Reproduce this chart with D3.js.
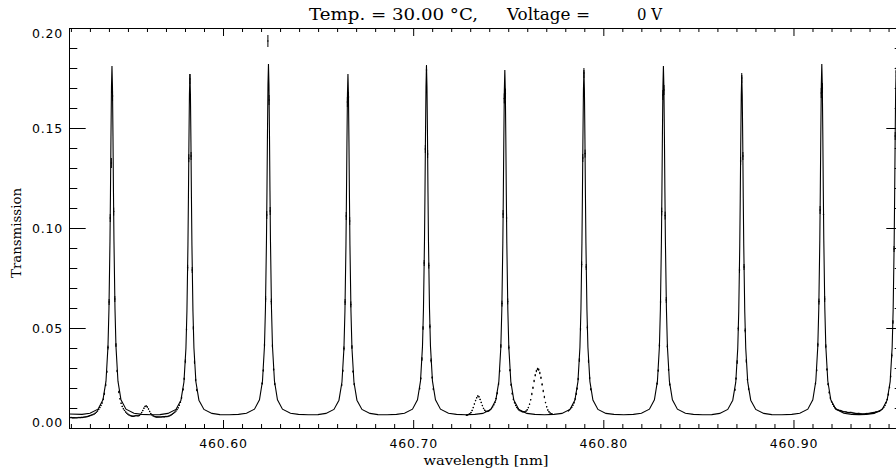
<!DOCTYPE html>
<html><head><meta charset="utf-8">
<script src="https://cdn.jsdelivr.net/npm/d3@7"></script>
<style>body{margin:0;background:#fff}svg{display:block}</style>
</head><body>
<svg id="c" width="896" height="474"></svg>
<script>
// ---- text ----
const titleParts = ["Temp. = 30.00 °C,", "Voltage =", "0 V"];
const xLabel = "wavelength [nm]";
const yLabel = "Transmission";
const xTickValues = [460.60, 460.70, 460.80, 460.90];
const yTickValues = [0.00, 0.05, 0.10, 0.15, 0.20];
const xDomain = [460.519, 460.9576];
const yDomain = [0, 0.20];

// ---- model (solid line) ----
const modelWl = [
460.5190,
460.52583,460.53003,460.53424,460.53687,460.53845,460.53950,460.54002,460.54055,460.54081,460.54107,460.54134,460.54160,460.54186,460.54213,460.54239,460.54265,460.54318,460.54370,460.54475,460.54633,460.54896,460.55317,460.55737,
460.56210,
460.56683,460.57103,460.57524,460.57787,460.57945,460.58050,460.58102,460.58155,460.58181,460.58207,460.58234,460.58260,460.58286,460.58313,460.58339,460.58365,460.58418,460.58470,460.58575,460.58733,460.58996,460.59417,460.59837,
460.60325,
460.60813,460.61233,460.61654,460.61917,460.62075,460.62180,460.62232,460.62285,460.62311,460.62337,460.62364,460.62390,460.62416,460.62443,460.62469,460.62495,460.62548,460.62600,460.62705,460.62863,460.63126,460.63547,460.63967,
460.64480,
460.64993,460.65413,460.65834,460.66097,460.66255,460.66360,460.66412,460.66465,460.66491,460.66517,460.66544,460.66570,460.66596,460.66623,460.66649,460.66675,460.66728,460.66780,460.66885,460.67043,460.67306,460.67727,460.68147,
460.68635,
460.69123,460.69543,460.69964,460.70227,460.70385,460.70490,460.70542,460.70595,460.70621,460.70647,460.70674,460.70700,460.70726,460.70753,460.70779,460.70805,460.70858,460.70910,460.71015,460.71173,460.71436,460.71857,460.72277,
460.72760,
460.73243,460.73663,460.74084,460.74347,460.74505,460.74610,460.74662,460.74715,460.74741,460.74767,460.74794,460.74820,460.74846,460.74873,460.74899,460.74925,460.74978,460.75030,460.75135,460.75293,460.75556,460.75977,460.76397,
460.76900,
460.77403,460.77823,460.78244,460.78507,460.78665,460.78770,460.78822,460.78875,460.78901,460.78927,460.78954,460.78980,460.79006,460.79033,460.79059,460.79085,460.79138,460.79190,460.79295,460.79453,460.79716,460.80137,460.80557,
460.81070,
460.81583,460.82003,460.82424,460.82687,460.82845,460.82950,460.83002,460.83055,460.83081,460.83107,460.83134,460.83160,460.83186,460.83213,460.83239,460.83265,460.83318,460.83370,460.83475,460.83633,460.83896,460.84317,460.84737,
460.85220,
460.85703,460.86123,460.86544,460.86807,460.86965,460.87070,460.87122,460.87175,460.87201,460.87227,460.87254,460.87280,460.87306,460.87333,460.87359,460.87385,460.87438,460.87490,460.87595,460.87753,460.88016,460.88437,460.88857,
460.89385,
460.89913,460.90333,460.90754,460.91017,460.91175,460.91280,460.91332,460.91385,460.91411,460.91437,460.91464,460.91490,460.91516,460.91543,460.91569,460.91595,460.91648,460.91700,460.91805,460.91963,460.92226,460.92647,460.93067,
460.93445,
460.93823,460.94243,460.94664,460.94927,460.95085,460.95190,460.95242,460.95295,460.95321,460.95347,460.95374,460.95400,460.95426,460.95453,460.95479,460.95505,460.95558,460.95610,460.95715
];
const modelT = [
0.0070,
.0068,.0074,.0094,.0141,.0234,.0408,.0597,.0934,.1178,.1459,.1706,.1810,.1706,.1459,.1178,.0934,.0597,.0408,.0234,.0141,.0094,.0074,.0068,
.0066,
.0067,.0073,.0093,.0139,.0230,.0400,.0585,.0914,.1153,.1427,.1669,.1770,.1669,.1427,.1153,.0914,.0585,.0400,.0230,.0139,.0093,.0073,.0067,
.0066,
.0068,.0074,.0094,.0141,.0235,.0410,.0600,.0939,.1185,.1467,.1716,.1820,.1716,.1467,.1185,.0939,.0600,.0410,.0235,.0141,.0094,.0074,.0068,
.0066,
.0067,.0073,.0093,.0139,.0230,.0400,.0585,.0914,.1153,.1427,.1669,.1770,.1669,.1427,.1153,.0914,.0585,.0400,.0230,.0139,.0093,.0073,.0067,
.0066,
.0068,.0074,.0094,.0141,.0234,.0408,.0597,.0934,.1178,.1459,.1706,.1810,.1706,.1459,.1178,.0934,.0597,.0408,.0234,.0141,.0094,.0074,.0068,
.0066,
.0068,.0073,.0093,.0140,.0232,.0404,.0591,.0924,.1165,.1443,.1688,.1790,.1688,.1443,.1165,.0924,.0591,.0404,.0232,.0140,.0093,.0073,.0068,
.0066,
.0068,.0073,.0093,.0140,.0232,.0404,.0591,.0924,.1165,.1443,.1688,.1790,.1688,.1443,.1165,.0924,.0591,.0404,.0232,.0140,.0093,.0073,.0068,
.0066,
.0068,.0074,.0094,.0141,.0234,.0408,.0597,.0934,.1178,.1459,.1706,.1810,.1706,.1459,.1178,.0934,.0597,.0408,.0234,.0141,.0094,.0074,.0068,
.0066,
.0067,.0073,.0093,.0139,.0229,.0399,.0583,.0911,.1149,.1423,.1664,.1765,.1664,.1423,.1149,.0911,.0583,.0399,.0229,.0139,.0093,.0073,.0067,
.0066,
.0068,.0074,.0094,.0141,.0235,.0410,.0600,.0939,.1185,.1467,.1716,.1820,.1716,.1467,.1185,.0939,.0600,.0410,.0235,.0141,.0094,.0074,.0068,
.0067,
.0068,.0073,.0093,.0140,.0232,.0404,.0591,.0924,.1165,.1443,.1688,.1790,.1688,.1443,.1165,.0924,.0591,.0404,.0232
];

// ---- measured points (dots with error bars) ----
const dataWl = [
460.5190,460.5196,460.5202,460.5208,460.5214,460.5220,460.5226,460.5232,460.5238,460.5244,460.5250,460.5256,460.5262,460.5268,460.5274,460.5280,460.5286,460.5292,460.5298,460.5304,460.5310,460.5316,460.5322,460.5328,460.5334,460.5340,460.5346,460.5352,460.5358,
460.5364,460.5370,460.5376,460.5383,460.5389,460.5395,460.5401,460.5407,460.5413,460.5419,460.5425,460.5431,460.5437,460.5443,
460.5452,460.5458,460.5464,460.5470,460.5476,460.5482,460.5488,460.5494,460.5500,460.5506,460.5512,460.5518,460.5524,460.5530,460.5536,460.5542,460.5548,460.5554,460.5560,460.5566,460.5572,460.5578,460.5584,460.5590,460.5596,460.5602,460.5608,460.5614,460.5620,460.5626,460.5632,460.5638,460.5644,460.5650,460.5656,460.5662,460.5668,460.5674,460.5680,460.5686,460.5692,460.5698,460.5704,460.5710,460.5716,460.5722,460.5728,460.5734,460.5740,460.5746,460.5752,460.5758,460.5764,460.5770,460.5776,460.5782,
460.5790,460.5796,460.5802,460.5808,460.5814,460.5820,460.5826,460.5832,460.5838,460.5844,460.5850,460.5856,460.5862,
460.6206,460.6212,460.6218,460.6224,460.6230,460.6236,460.6242,460.6248,460.6254,460.6260,460.6266,460.6272,
460.6624,460.6630,460.6636,460.6642,460.6648,460.6654,460.6660,460.6666,460.6672,460.6678,460.6684,460.6690,
460.7034,460.7040,460.7046,460.7052,460.7058,460.7064,460.7070,460.7076,460.7082,460.7088,460.7094,460.7100,460.7106,
460.7280,460.7286,460.7292,460.7298,460.7304,460.7310,460.7316,460.7322,460.7328,460.7334,460.7340,460.7346,460.7352,460.7358,460.7364,460.7370,460.7376,460.7382,460.7388,460.7394,460.7400,
460.7406,460.7412,460.7418,460.7424,460.7430,460.7436,460.7442,
460.7449,460.7455,460.7461,460.7467,460.7473,460.7479,460.7485,460.7491,460.7497,460.7503,460.7509,460.7515,
460.7521,460.7527,460.7533,460.7539,460.7545,460.7551,460.7557,460.7563,
460.7570,460.7576,460.7582,460.7588,460.7594,460.7600,460.7606,460.7612,460.7618,460.7624,460.7630,460.7636,460.7642,460.7648,460.7654,460.7660,460.7666,460.7672,460.7678,460.7684,460.7690,460.7696,460.7702,460.7708,460.7714,460.7720,460.7726,460.7732,
460.7816,460.7822,460.7828,460.7834,460.7840,460.7846,460.7852,460.7858,
460.7862,460.7868,460.7874,460.7880,460.7886,460.7892,460.7898,460.7904,460.7910,460.7916,460.7922,460.7928,460.7934,
460.8283,460.8289,460.8295,460.8301,460.8307,460.8313,460.8319,460.8325,460.8331,460.8337,460.8343,460.8349,
460.8692,460.8698,460.8704,460.8710,460.8716,460.8722,460.8728,460.8734,460.8740,460.8746,460.8752,460.8758,460.8764,
460.9116,460.9122,460.9128,460.9134,460.9140,460.9146,460.9152,460.9158,460.9164,460.9170,460.9176,460.9182,
460.9188,460.9194,460.9200,460.9206,460.9212,460.9218,
460.9223,460.9229,460.9235,460.9241,460.9247,460.9253,460.9259,460.9265,460.9271,460.9277,460.9283,460.9289,460.9295,460.9301,460.9307,460.9313,460.9319,460.9325,460.9331,460.9337,460.9343,460.9349,460.9355,460.9361,460.9367,460.9373,460.9379,460.9385,460.9391,460.9397,460.9403,460.9409,460.9415,460.9421,460.9427,460.9433,460.9439,460.9445,460.9451,460.9457,
460.9463,460.9469,460.9475,460.9481,460.9487,460.9493,460.9499,460.9505,460.9511,460.9517,460.9523,460.9529,460.9535,460.9541
];
const dataT = [
.0052,.0052,.0052,.0051,.0051,.0051,.0051,.0051,.0052,.0052,.0052,.0053,.0053,.0054,.0055,.0056,.0057,.0059,.0061,.0063,.0065,.0067,.0070,.0074,.0079,.0085,.0093,.0102,.0113,
.0125,.0144,.0171,.0215,.0281,.0402,.0630,.1050,.1325,.1660,.1082,.0645,.0415,.0285,
.0180,.0146,.0124,.0108,.0096,.0088,.0080,.0074,.0069,.0065,.0062,.0060,.0059,.0059,.0060,.0062,.0061,.0061,.0063,.0068,.0077,.0087,.0099,.0108,.0110,.0105,.0095,.0083,.0072,.0066,.0061,.0058,.0056,.0055,.0055,.0055,.0055,.0055,.0056,.0056,.0056,.0057,.0057,.0058,.0060,.0063,.0066,.0070,.0074,.0079,.0085,.0092,.0101,.0114,.0129,.0151,
.0193,.0246,.0334,.0494,.0801,.1349,.1745,.1360,.0790,.0500,.0330,.0240,.0190,
.0223,.0288,.0415,.0645,.1065,.1935,.1640,.1085,.0632,.0410,.0293,.0220,
.0215,.0286,.0398,.0630,.1060,.1630,.1655,.1035,.0618,.0405,.0282,.0219,
.0198,.0248,.0345,.0500,.0825,.1395,.1790,.1370,.0812,.0508,.0338,.0252,.0195,
.0064,.0065,.0068,.0071,.0077,.0088,.0102,.0120,.0137,.0151,.0160,.0156,.0143,.0128,.0112,.0098,.0089,.0084,.0083,.0084,.0087,
.0092,.0098,.0106,.0116,.0128,.0147,.0174,
.0220,.0285,.0410,.0622,.1070,.1648,.1672,.1050,.0633,.0403,.0289,.0216,
.0172,.0144,.0126,.0113,.0103,.0096,.0090,.0086,
.0083,.0081,.0081,.0081,.0085,.0091,.0102,.0119,.0141,.0170,.0201,.0235,.0264,.0285,.0295,.0292,.0275,.0251,.0218,.0185,.0155,.0127,.0106,.0090,.0081,.0075,.0071,.0069,
.0086,.0091,.0097,.0104,.0114,.0126,.0145,.0171,
.0197,.0245,.0340,.0495,.0818,.1350,.1775,.1372,.0805,.0502,.0335,.0250,.0194,
.0222,.0287,.0414,.0630,.1082,.1665,.1690,.1062,.0640,.0408,.0291,.0218,
.0191,.0247,.0330,.0497,.0790,.1335,.1750,.1360,.0805,.0488,.0335,.0243,.0195,
.0223,.0289,.0416,.0632,.1090,.1675,.1700,.1068,.0645,.0409,.0293,.0219,
.0178,.0150,.0131,.0119,.0109,.0101,
.0096,.0092,.0090,.0088,.0087,.0085,.0083,.0081,.0081,.0080,.0078,.0077,.0077,.0078,.0077,.0075,.0074,.0073,.0072,.0072,.0073,.0072,.0071,.0070,.0070,.0070,.0071,.0072,.0072,.0073,.0074,.0075,.0076,.0077,.0078,.0080,.0081,.0082,.0084,.0087,
.0092,.0097,.0104,.0113,.0126,.0143,.0168,.0204,.0258,.0362,.0530,.0895,.1460,.1780
];
const dataErr = [
.0003,.0003,.0003,.0003,.0003,.0003,.0003,.0003,.0003,.0003,.0003,.0003,.0003,.0003,.0003,.0003,.0003,.0003,.0003,.0003,.0003,.0003,.0003,.0003,.0003,.0003,.0003,.0003,.0003,
.0003,.0003,.0006,.0006,.0006,.0010,.0015,.0020,.0025,.0025,.0020,.0015,.0010,.0006,
.0006,.0003,.0003,.0003,.0003,.0003,.0003,.0003,.0003,.0003,.0003,.0003,.0003,.0003,.0003,.0003,.0003,.0003,.0003,.0003,.0003,.0003,.0003,.0003,.0003,.0003,.0003,.0003,.0003,.0003,.0003,.0003,.0003,.0003,.0003,.0003,.0003,.0003,.0003,.0003,.0003,.0003,.0003,.0003,.0003,.0003,.0003,.0003,.0003,.0003,.0003,.0003,.0003,.0003,.0003,.0006,
.0006,.0006,.0010,.0010,.0015,.0020,.0025,.0020,.0015,.0010,.0010,.0006,.0006,
.0006,.0006,.0010,.0015,.0020,.0030,.0025,.0020,.0015,.0010,.0006,.0006,
.0006,.0006,.0010,.0015,.0020,.0025,.0025,.0020,.0015,.0010,.0006,.0006,
.0006,.0006,.0010,.0010,.0015,.0020,.0025,.0020,.0015,.0010,.0010,.0006,.0006,
.0003,.0003,.0003,.0003,.0003,.0003,.0003,.0003,.0003,.0003,.0003,.0003,.0003,.0003,.0003,.0003,.0003,.0003,.0003,.0003,.0003,
.0003,.0003,.0003,.0003,.0003,.0003,.0006,
.0006,.0006,.0010,.0015,.0020,.0025,.0025,.0020,.0015,.0010,.0006,.0006,
.0006,.0003,.0003,.0003,.0003,.0003,.0003,.0003,
.0003,.0003,.0003,.0003,.0003,.0003,.0003,.0003,.0003,.0006,.0006,.0006,.0006,.0006,.0006,.0006,.0006,.0006,.0006,.0006,.0006,.0003,.0003,.0003,.0003,.0003,.0003,.0003,
.0003,.0003,.0003,.0003,.0003,.0003,.0003,.0006,
.0006,.0006,.0010,.0010,.0015,.0020,.0025,.0020,.0015,.0010,.0010,.0006,.0006,
.0006,.0006,.0010,.0015,.0020,.0025,.0025,.0020,.0015,.0010,.0006,.0006,
.0006,.0006,.0010,.0010,.0015,.0020,.0025,.0020,.0015,.0010,.0010,.0006,.0006,
.0006,.0006,.0010,.0015,.0020,.0025,.0025,.0020,.0015,.0010,.0006,.0006,
.0006,.0006,.0003,.0003,.0003,.0003,
.0003,.0003,.0003,.0003,.0003,.0003,.0003,.0003,.0003,.0003,.0003,.0003,.0003,.0003,.0003,.0003,.0003,.0003,.0003,.0003,.0003,.0003,.0003,.0003,.0003,.0003,.0003,.0003,.0003,.0003,.0003,.0003,.0003,.0003,.0003,.0003,.0003,.0003,.0003,.0003,
.0003,.0003,.0003,.0003,.0003,.0003,.0006,.0006,.0006,.0010,.0010,.0015,.0020,.0025
];

// ---- layout ----
const L = 69, R = 903, T = 28, B = 428;
const svg = d3.select("#c");
svg.append("rect").attr("width", 896).attr("height", 474).attr("fill", "#fff");

const x = d3.scaleLinear().domain(xDomain).range([L, R]);
const y = d3.scaleLinear().domain(yDomain).range([B, T]);

svg.append("clipPath").attr("id", "clip")
  .append("rect").attr("x", L).attr("y", T).attr("width", R - L).attr("height", B - T);

const plot = svg.append("g").attr("clip-path", "url(#clip)");

const model = modelWl.map((w, i) => [w, modelT[i]]);
plot.append("path").datum(model)
  .attr("fill", "none").attr("stroke", "#000").attr("stroke-width", 1.1)
  .attr("d", d3.line().x(d => x(d[0])).y(d => y(d[1])));

const data = dataWl.map((w, i) => ({w, t: dataT[i], e: dataErr[i]}));
plot.append("g").selectAll("line").data(data).join("line")
  .attr("x1", d => x(d.w)).attr("x2", d => x(d.w))
  .attr("y1", d => y(d.t - d.e)).attr("y2", d => y(d.t + d.e))
  .attr("stroke", "#000").attr("stroke-width", 1);
plot.append("g").selectAll("circle").data(data).join("circle")
  .attr("cx", d => x(d.w)).attr("cy", d => y(d.t)).attr("r", 0.75).attr("fill", "#000");

// ---- axes ----
const isMajorX = v => xTickValues.some(m => Math.abs(m - v) < 1e-6);
const isMajorY = v => yTickValues.some(m => Math.abs(m - v) < 1e-6);
const xMinor = d3.ticks(xDomain[0], xDomain[1], 44).filter(v => !isMajorX(v));
const yMinor = d3.ticks(yDomain[0], yDomain[1], 20).filter(v => !isMajorY(v));

function styleAxis(g) {
  g.selectAll("path.domain").attr("stroke", "#000").attr("stroke-width", 1);
  g.selectAll(".tick line").attr("stroke", "#000").attr("stroke-width", 1);
  g.attr("font-family", "'DejaVu Sans', sans-serif").attr("font-size", 12.5);
  g.selectAll("text").attr("fill", "#000").attr("letter-spacing", 0.8);
}

const fmt = d3.format(".2f");
const none = () => "";

// bottom
svg.append("g").attr("transform", `translate(0,${B})`)
  .call(d3.axisBottom(x).tickValues(xTickValues).tickSize(-8).tickSizeOuter(0).tickPadding(11).tickFormat(fmt))
  .call(styleAxis);
svg.append("g").attr("transform", `translate(0,${B})`)
  .call(d3.axisBottom(x).tickValues(xMinor).tickSize(-4).tickSizeOuter(0).tickFormat(none))
  .call(styleAxis);
// top
svg.append("g").attr("transform", `translate(0,${T})`)
  .call(d3.axisTop(x).tickValues(xTickValues).tickSize(-8).tickSizeOuter(0).tickFormat(none))
  .call(styleAxis);
svg.append("g").attr("transform", `translate(0,${T})`)
  .call(d3.axisTop(x).tickValues(xMinor).tickSize(-4).tickSizeOuter(0).tickFormat(none))
  .call(styleAxis);
// left
const gl = svg.append("g").attr("transform", `translate(${L},0)`)
  .call(d3.axisLeft(y).tickValues(yTickValues).tickSize(-16.7).tickSizeOuter(0).tickPadding(6).tickFormat(fmt))
  .call(styleAxis);
gl.selectAll(".tick text").attr("dy", d => d >= 0.2 - 1e-9 ? "0.72em" : (d <= 1e-9 ? "-0.1em" : "0.32em"));
svg.append("g").attr("transform", `translate(${L},0)`)
  .call(d3.axisLeft(y).tickValues(yMinor).tickSize(-8.3).tickSizeOuter(0).tickFormat(none))
  .call(styleAxis);
// right
svg.append("g").attr("transform", `translate(${R},0)`)
  .call(d3.axisRight(y).tickValues(yTickValues).tickSize(-16.7).tickSizeOuter(0).tickFormat(none))
  .call(styleAxis);
svg.append("g").attr("transform", `translate(${R},0)`)
  .call(d3.axisRight(y).tickValues(yMinor).tickSize(-8.3).tickSizeOuter(0).tickFormat(none))
  .call(styleAxis);

// ---- titles ----
const serif = "'DejaVu Serif', serif";
const tg = svg.append("g").attr("font-family", serif).attr("font-size", 16).attr("fill", "#000");
const titleX = [309, 507, 637];
const titleW = [169, 83, 25];
titleParts.forEach((s, i) => {
  tg.append("text").attr("x", titleX[i]).attr("y", 20).attr("textLength", titleW[i])
    .attr("lengthAdjust", "spacingAndGlyphs").text(s);
});

svg.append("text").attr("x", (L + R) / 2).attr("y", 465).attr("text-anchor", "middle")
  .attr("font-family", serif).attr("font-size", 13.5).attr("textLength", 125).attr("lengthAdjust", "spacingAndGlyphs")
  .text(xLabel);

svg.append("text").attr("transform", `translate(21,233) rotate(-90)`).attr("text-anchor", "middle")
  .attr("font-family", serif).attr("font-size", 13).attr("textLength", 90).attr("lengthAdjust", "spacingAndGlyphs")
  .text(yLabel);
</script>
</body></html>
